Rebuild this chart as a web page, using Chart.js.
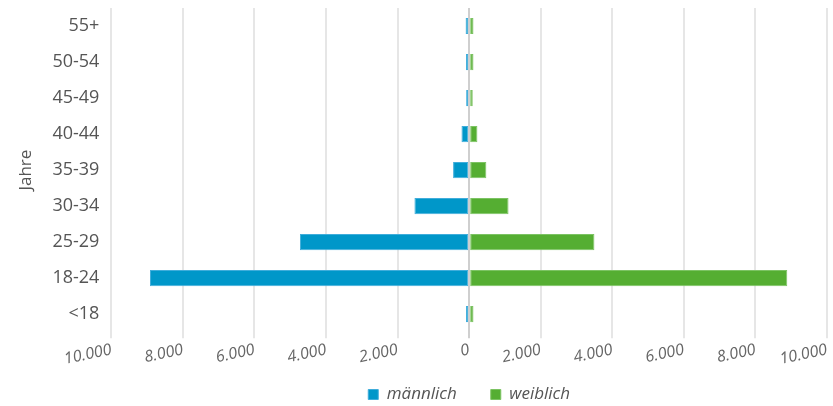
<!DOCTYPE html>
<html>
<head>
<meta charset="utf-8">
<script src="https://cdn.jsdelivr.net/npm/chart.js@4"></script>
<style>
  html, body { margin: 0; padding: 0; background: #fff; }
  #wrap { width: 833px; height: 406px; }
</style>
</head>
<body>
<div id="wrap"><canvas id="c"></canvas></div>
<script>
const categories = ['55+', '50-54', '45-49', '40-44', '35-39', '30-34', '25-29', '18-24', '<18']
const maennlich = [100, 90, 85, 215, 450, 1530, 4730, 8920, 90]
const weiblich = [120, 120, 100, 230, 480, 1100, 3500, 8890, 120]
const xTicks = [-10000, -8000, -6000, -4000, -2000, 0, 2000, 4000, 6000, 8000, 10000]

const font = "'Open Sans', 'Noto Sans', sans-serif"
const fmt = v => Math.abs(v).toLocaleString('de-DE')

// push the legend a little lower than chart.js puts it
const legendShift = {
  id: 'legendShift',
  afterLayout(chart) {
    chart.legend.top += 7
    chart.legend.bottom += 7
  }
}

new Chart(document.getElementById('c'), {
  type: 'bar',
  data: {
    labels: categories,
    datasets: [{
      label: 'männlich',
      data: maennlich.map(v => -v),
      backgroundColor: '#0097c9',
      borderColor: '#40addb',
      borderWidth: 1,
      borderSkipped: false
    }, {
      label: 'weiblich',
      data: weiblich,
      backgroundColor: '#55ae32',
      borderColor: '#7cc363',
      borderWidth: 1,
      borderSkipped: false
    }]
  },
  options: {
    indexAxis: 'y',
    responsive: true,
    maintainAspectRatio: false,
    animation: false,
    layout: { padding: { top: 8, right: 6, left: 12, bottom: 0 } },
    datasets: { bar: { barPercentage: 0.5, categoryPercentage: 0.9 } },
    scales: {
      x: {
        stacked: true,
        min: -10000,
        max: 10000,
        afterBuildTicks: axis => { axis.ticks = xTicks.map(v => ({ value: v })) },
        afterFit: s => { s.height += 5 },
        grid: {
          color: ctx => ctx.tick && ctx.tick.value === 0 ? '#cfcfcf' : '#e6e6e6',
          lineWidth: 2,
          drawTicks: true,
          tickLength: 6
        },
        border: { display: false },
        ticks: {
          minRotation: 12,
          maxRotation: 12,
          color: '#666',
          padding: 2,
          font: { family: font, size: 16, style: 'italic' },
          callback: v => fmt(v)
        }
      },
      y: {
        stacked: true,
        afterFit: s => { s.paddingTop = 0; s.paddingBottom = 0 },
        grid: { display: false, drawTicks: false },
        border: { display: false },
        ticks: { color: '#555', font: { family: font, size: 18 }, padding: 12 },
        title: {
          display: true,
          text: 'Jahre',
          color: '#555',
          padding: 4,
          font: { family: font, size: 17 }
        }
      }
    },
    plugins: {
      legend: {
        position: 'bottom',
        fullSize: false,
        labels: {
          boxWidth: 10,
          boxHeight: 10,
          padding: 3,
          color: '#555',
          font: { family: font, size: 17, style: 'italic' },
          generateLabels: chart => {
            const items = Chart.defaults.plugins.legend.labels.generateLabels(chart)
            items[0].text += '       '
            return items
          }
        }
      },
      tooltip: { enabled: false }
    }
  },
  plugins: [legendShift]
})
</script>
</body>
</html>
